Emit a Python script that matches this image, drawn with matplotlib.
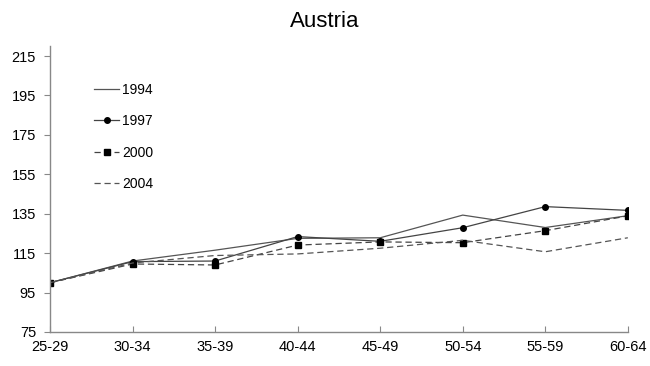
import matplotlib
matplotlib.use("Agg")
import matplotlib.pyplot as plt

categories = ["25-29", "30-34", "35-39", "40-44", "45-49", "50-54", "55-59", "60-64"]
s1994 = [100, 111, 116.5, 122.5, 122.8, 134.3, 128, 134]
s1997 = [100, 110.7, 111, 123.4, 121, 127.9, 138.6, 136.7]
s2000 = [100, 109.5, 109, 119.1, 120.7, 120.3, 126.4, 133.9]
s2004 = [100, 110, 113.8, 114.6, 117.5, 121.5, 115.7, 122.8]
yticks = [75, 95, 115, 135, 155, 175, 195, 215]

plt.rcParams['font.family'] = ['Liberation Sans', 'DejaVu Sans']

fig = plt.figure(figsize=(6.5, 3.66), dpi=100)
ax = fig.add_axes([0.0769, 0.0929, 0.889, 0.781])
x = list(range(len(categories)))
ax.plot(x, s1994, color='#555555', lw=0.9, label='1994')
ax.plot(x, s1997, color='#444444', lw=0.9, marker='o', ms=4, mfc='black', mec='black', label='1997')
ax.plot(x, s2000, color='#444444', lw=0.9, ls=(0, (5, 3)), marker='s', ms=4.3, mfc='black', mec='black', label='2000')
ax.plot(x, s2004, color='#555555', lw=0.9, ls=(0, (5, 3)), label='2004')

ax.set_xlim(0, len(categories) - 1)
ax.set_ylim(75, 220)
ax.set_yticks(yticks)
ax.set_xticks(x)
ax.set_xticklabels(categories)
for s in ['top', 'right']:
    ax.spines[s].set_visible(False)
for s in ['left', 'bottom']:
    ax.spines[s].set_color('#888888')
    ax.spines[s].set_linewidth(1)
ax.spines['left'].set_bounds(75, 220)
ax.tick_params(axis='y', direction='out', length=4, color='#888888', labelsize=10.5, pad=6)
ax.tick_params(axis='x', direction='in', length=4, color='#888888', labelsize=10.5, pad=6)
fig.text(0.5, 0.94, 'Austria', fontsize=16, ha='center', va='center')

leg = ax.legend(loc='upper left', bbox_to_anchor=(0.055, 0.915), frameon=False,
                fontsize=10, handlelength=1.8, handletextpad=0.2, labelspacing=1.25)
fig.savefig('out.png', dpi=100)
